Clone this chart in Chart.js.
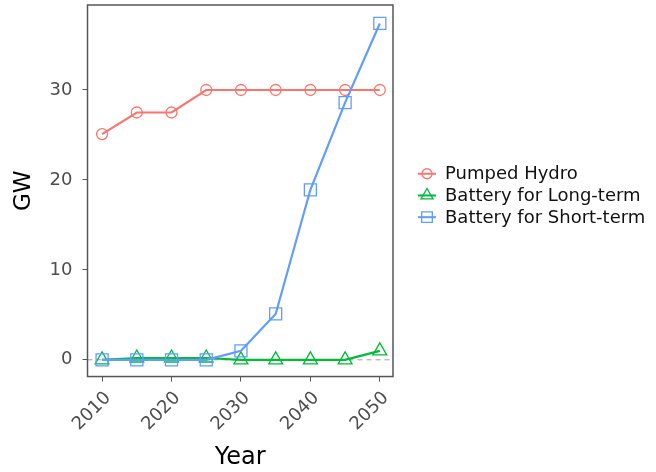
<!DOCTYPE html>
<html>
<head>
<meta charset="utf-8">
<script src="https://cdn.jsdelivr.net/npm/chart.js@4/dist/chart.umd.min.js"></script>
<style>
  html, body { margin: 0; padding: 0; background: #ffffff; }
  #wrap { width: 656px; height: 472px; }
</style>
</head>
<body>
<div id="wrap"><canvas id="c" width="656" height="472"></canvas></div>
<script>
// ---- data ----
const years = [2010, 2015, 2020, 2025, 2030, 2035, 2040, 2045, 2050];
const pumpedHydro = [25.1, 27.5, 27.5, 30, 30, 30, 30, 30, 30];
const batteryLong = [0, 0.2, 0.2, 0.2, 0, 0, 0, 0, 1.0];
const batteryShort = [0, 0, 0, 0, 1.0, 5.1, 18.9, 28.6, 37.4];
const seriesNames = ['Pumped Hydro', 'Battery for Long-term', 'Battery for Short-term'];
const xTicks = [2010, 2020, 2030, 2040, 2050];
const yTicks = [0, 10, 20, 30];
const refValue = 0;

const colors = ['#F8766D', '#00BA38', '#619CFF'];
const styles = ['circle', 'triangle', 'rect'];
const radii = [5.5, 8, 8.5];

function pts(arr) { return years.map((y, i) => ({ x: y, y: arr[i] })); }
const allSeries = [pumpedHydro, batteryLong, batteryShort];

const datasets = allSeries.map((s, i) => ({
  label: seriesNames[i],
  data: pts(s),
  borderColor: colors[i],
  backgroundColor: 'rgba(0,0,0,0)',
  borderWidth: 2.2,
  pointStyle: styles[i],
  pointRadius: radii[i],
  pointHoverRadius: radii[i],
  pointBorderWidth: 1.3,
  pointBorderColor: colors[i],
  pointBackgroundColor: 'rgba(0,0,0,0)',
  tension: 0,
  fill: false,
  order: 3 - i
}));

Chart.defaults.font.family = "'DejaVu Sans', sans-serif";

function drawMarker(ctx, style, r, x, y) {
  ctx.beginPath();
  if (style === 'circle') {
    ctx.arc(x, y, r, 0, Math.PI * 2);
  } else if (style === 'triangle') {
    for (let k = 0; k < 3; k++) {
      const a = k * 2 * Math.PI / 3;
      const px = x + Math.sin(a) * r, py = y - Math.cos(a) * r;
      if (k === 0) ctx.moveTo(px, py); else ctx.lineTo(px, py);
    }
    ctx.closePath();
  } else {
    const s = r * Math.SQRT1_2;
    ctx.rect(x - s, y - s, 2 * s, 2 * s);
  }
  ctx.stroke();
}

const framePlugin = {
  id: 'frame',
  beforeDatasetsDraw(chart) {
    const { ctx, chartArea: a, scales } = chart;
    const y0 = scales.y.getPixelForValue(refValue);
    ctx.save();
    ctx.strokeStyle = '#a0a0a0';
    ctx.lineWidth = 1;
    ctx.setLineDash([5, 4]);
    ctx.beginPath();
    ctx.moveTo(a.left, y0);
    ctx.lineTo(a.right, y0);
    ctx.stroke();
    ctx.restore();
  },
  afterDraw(chart) {
    const { ctx, chartArea: a } = chart;
    ctx.save();
    ctx.strokeStyle = '#555555';
    ctx.lineWidth = 1.5;
    ctx.strokeRect(a.left, a.top, a.right - a.left, a.bottom - a.top);
    // legend
    const cx = a.right + 34;
    const cy0 = (a.top + a.bottom) / 2 - 17;
    const dy = 21.7;
    ctx.font = "18px 'DejaVu Sans'";
    ctx.textBaseline = 'middle';
    ctx.textAlign = 'left';
    chart.data.datasets.forEach((ds, i) => {
      const cy = cy0 + i * dy;
      ctx.strokeStyle = colors[i];
      ctx.lineWidth = 2;
      ctx.beginPath();
      ctx.moveTo(cx - 9, cy);
      ctx.lineTo(cx + 9, cy);
      ctx.stroke();
      ctx.lineWidth = 1.3;
      drawMarker(ctx, styles[i], i === 0 ? 5 : (i === 1 ? 7 : 7.5), cx, cy);
      ctx.fillStyle = '#111111';
      ctx.fillText(ds.label, cx + 18, cy + 1);
    });
    ctx.restore();
  }
};

new Chart(document.getElementById('c'), {
  type: 'line',
  data: { datasets },
  options: {
    responsive: false,
    animation: false,
    layout: { autoPadding: false, padding: { left: 6, right: 263, top: 5, bottom: 2 } },
    plugins: { legend: { display: false }, tooltip: { enabled: false } },
    scales: {
      x: {
        type: 'linear',
        min: 2007.9,
        max: 2051.9,
        afterBuildTicks: s => { s.ticks = xTicks.map(v => ({ value: v })); },
        afterFit: s => { s.paddingLeft = 0; s.paddingRight = 0; },
        ticks: {
          callback: v => String(v),
          minRotation: 45,
          maxRotation: 45,
          color: '#4d4d4d',
          font: { size: 18 },
          padding: 6,
          labelOffset: 6
        },
        grid: { display: true, drawOnChartArea: false, drawTicks: true, tickLength: 5, color: '#555555', lineWidth: 1 },
        border: { display: false },
        title: { display: true, text: 'Year', color: '#000000', font: { size: 24, lineHeight: 1.0 }, padding: { top: 4.8, bottom: 0 } }
      },
      y: {
        type: 'linear',
        min: -1.86,
        max: 39.45,
        afterBuildTicks: s => { s.ticks = yTicks.map(v => ({ value: v })); },
        afterFit: s => { s.paddingTop = 0; s.paddingBottom = 0; },
        ticks: { color: '#4d4d4d', font: { size: 18 }, padding: 10 },
        grid: { display: true, drawOnChartArea: false, drawTicks: true, tickLength: 5, color: '#555555', lineWidth: 1 },
        border: { display: false },
        title: { display: true, text: 'GW', color: '#000000', font: { size: 23 }, padding: { top: 4, bottom: 2 } }
      }
    }
  },
  plugins: [framePlugin]
});
</script>
</body>
</html>
